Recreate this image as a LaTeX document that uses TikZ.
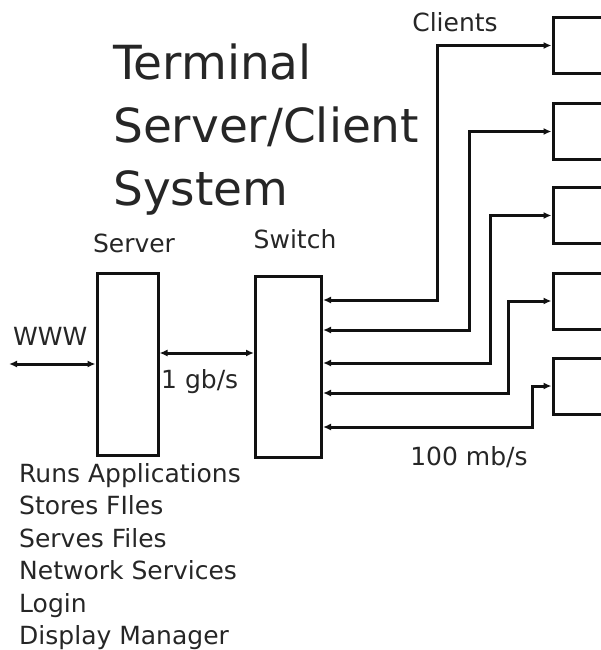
\documentclass[tikz,border=0pt]{standalone}
\usepackage{fontspec}
\setmainfont{DejaVu Sans}
\usepackage{tikz}
\usetikzlibrary{arrows.meta,positioning}
\definecolor{ink}{HTML}{111111}
\definecolor{textgray}{HTML}{262626}
\tikzset{
  >={Latex[length=8pt,width=7pt]},
  unit/.style={draw=ink,line width=3pt,fill=white,inner sep=0pt},
  link/.style={<->,line width=3pt,color=ink},
  lbl/.style={font=\fontsize{25}{30}\selectfont,text=textgray,inner sep=0pt},
  headline/.style={font=\fontsize{47}{63}\selectfont,text=textgray,inner sep=0pt,align=left},
}

\begin{document}
\begin{tikzpicture}[x=1pt,y=-1pt]
  \useasboundingbox (0,0) rectangle (600,650);
  % title
  \node[headline,anchor=north west] (title) at (113,44) {Terminal\\Server/Client\\System};

  % server, switch and the client boxes on the right edge
  \node[unit,minimum width=61pt,minimum height=182pt] (server) at (127.5,364) {};
  \node[unit,minimum width=66pt,minimum height=181pt] (switch) at (288.5,367) {};
  \foreach \i/\yc in {1/45.5,2/131.5,3/215.5,4/301,5/386}
    \node[unit,minimum width=60pt,minimum height=56pt] (client\i) at (583,\yc) {};

  % links
  \coordinate (www) at (9,364);
  \draw[link] (www) -- (server.west);
  \draw[link] (server.east |- 0,353) -- (switch.west |- 0,353);
  \foreach \i/\xv/\yv in {1/437/300,2/469/330,3/490/363,4/508/393,5/532/427}
    \draw[link] (client\i.west) -| (\xv,\yv) -- (switch.east |- 0,\yv);

  % labels
  \node[lbl,anchor=base] (serverlbl) at (134,252) {Server};
  \node[lbl,anchor=base] (switchlbl) at (295,248) {Switch};
  \node[lbl,anchor=base] (clientslbl) at (455,32) {Clients};
  \node[lbl,anchor=base west] (wwwlbl) at (13,345) {WWW};
  \node[lbl,anchor=base west] (gbit) at (161,388) {1 gb/s};
  \node[lbl,anchor=base] (mbit) at (469,465) {100 mb/s};

  % what the server does
  \foreach \i/\t in {0/Runs Applications,1/Stores FIles,2/Serves Files,
                     3/Network Services,4/Login,5/Display Manager}
    \node[lbl,anchor=base west] (duty\i) at (19,{482+32.5*\i}) {\t};
\end{tikzpicture}
\end{document}
